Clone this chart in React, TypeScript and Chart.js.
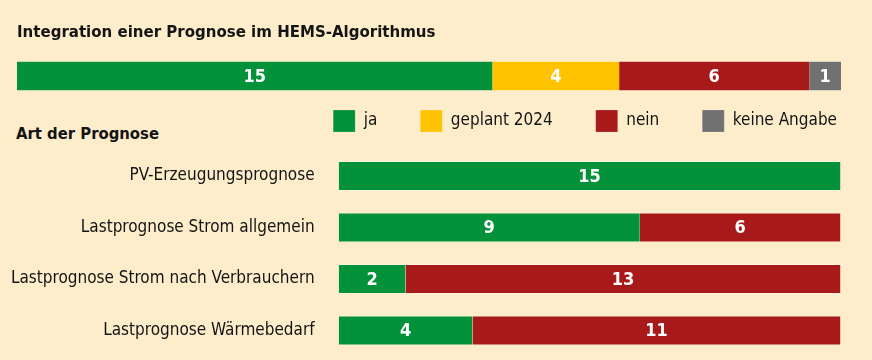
import React, { useEffect, useRef } from "react";
import { Chart, registerables } from "chart.js";

Chart.register(...registerables);

// ---- data ----
const seriesLabels = ["ja", "geplant 2024", "nein", "keine Angabe"];
const seriesColors = ["#03913A", "#FFC300", "#A81A1A", "#717171"];

const topTitle = "Integration einer Prognose im HEMS-Algorithmus";
const topCategories = ["HEMS-Algorithmus"];
const topJa = [15];
const topGeplant = [4];
const topNein = [6];
const topKeine = [1];

const sectionTitle = "Art der Prognose";
const categories = [
  "PV-Erzeugungsprognose",
  "Lastprognose Strom allgemein",
  "Lastprognose Strom nach Verbrauchern",
  "Lastprognose Wärmebedarf",
];
const jaValues = [15, 9, 2, 4];
const geplantValues = [0, 0, 0, 0];
const neinValues = [0, 6, 13, 11];
const keineValues = [0, 0, 0, 0];

const topTotal = 26;
const bottomTotal = 15;

// ---- styles ----
const BG = "#FEEDCB";
const TEXT = "#141414";
const EDGE = "rgba(255,255,255,0.35)";
const COND = "'DejaVu Sans Condensed', 'DejaVu Sans', sans-serif";

const valueLabels = {
  id: "valueLabels",
  afterDatasetsDraw(chart: any) {
    const ctx = chart.ctx;
    ctx.save();
    ctx.font = `bold 18px ${COND}`;
    ctx.fillStyle = "#ffffff";
    ctx.textAlign = "center";
    ctx.textBaseline = "middle";
    chart.data.datasets.forEach((ds: any, i: number) => {
      const meta = chart.getDatasetMeta(i);
      if (meta.hidden) return;
      meta.data.forEach((el: any, j: number) => {
        const v = ds.data[j];
        if (!v) return;
        const p = el.getCenterPoint();
        ctx.fillText(String(v), p.x, p.y + 1);
      });
    });
    ctx.restore();
  },
};

function makeDatasets(arrays: number[][], barPercentage: number) {
  return arrays.map((data, i) => ({
    label: seriesLabels[i],
    data,
    backgroundColor: seriesColors[i],
    borderColor: EDGE,
    borderWidth: { top: 1, bottom: 1, left: 0, right: 0 },
    borderSkipped: false,
    barPercentage,
    categoryPercentage: 1,
  }));
}

export default function App() {
  const topRef = useRef<HTMLCanvasElement>(null);
  const bottomRef = useRef<HTMLCanvasElement>(null);

  useEffect(() => {
    const top = new Chart(topRef.current!, {
      type: "bar",
      data: {
        labels: topCategories,
        datasets: makeDatasets([topJa, topGeplant, topNein, topKeine], 1) as any,
      },
      options: {
        indexAxis: "y",
        responsive: false,
        animation: false,
        layout: { padding: { left: 17, right: 31, top: 0, bottom: 9 } },
        scales: {
          x: { stacked: true, min: 0, max: topTotal, display: false },
          y: { stacked: true, display: false },
        },
        plugins: {
          legend: { display: false },
          tooltip: { enabled: false },
          title: {
            display: true,
            text: topTitle,
            align: "start",
            color: TEXT,
            font: { family: COND, size: 16.7, weight: "bold", lineHeight: 1.2 },
            padding: { top: 23, bottom: 18 },
          },
        },
      } as any,
      plugins: [valueLabels],
    });

    const bottom = new Chart(bottomRef.current!, {
      type: "bar",
      data: {
        labels: categories,
        datasets: makeDatasets([jaValues, geplantValues, neinValues, keineValues], 0.583) as any,
      },
      options: {
        indexAxis: "y",
        responsive: false,
        animation: false,
        layout: { padding: { left: 10, right: -8, top: 0, bottom: 35.75 } },
        scales: {
          x: {
            stacked: true,
            min: 0,
            max: bottomTotal,
            position: "top",
            grid: { display: false },
            border: { display: false },
            ticks: { display: false },
            afterFit: (s: any) => {
              s.height = 8.25;
            },
          },
          y: {
            stacked: true,
            position: "left",
            grid: { display: false },
            border: { display: false },
            ticks: {
              padding: 16,
              color: TEXT,
              font: { family: COND, size: 17 },
            },
            afterFit: (s: any) => {
              s.width = 328.6;
            },
          },
          yRight: {
            type: "category",
            axis: "y",
            position: "right",
            grid: { display: false },
            border: { display: false },
            ticks: { display: false },
            afterFit: (s: any) => {
              s.width = 39.4;
            },
          },
        },
        plugins: {
          legend: {
            display: true,
            position: "top",
            align: "end",
            labels: {
              boxWidth: 22,
              boxHeight: 22,
              padding: 43,
              color: TEXT,
              font: { family: COND, size: 17 },
            },
          },
          tooltip: { enabled: false },
          title: { display: false },
        },
      } as any,
      plugins: [valueLabels],
    });

    return () => {
      top.destroy();
      bottom.destroy();
    };
  }, []);

  return (
    <div
      style={{
        position: "fixed",
        left: 0,
        top: 0,
        width: 872,
        height: 360,
        background: BG,
        overflow: "hidden",
      }}
    >
      <canvas
        ref={topRef}
        width={872}
        height={100}
        style={{ position: "absolute", left: 0, top: 0, display: "block" }}
      />
      <div
        style={{
          position: "absolute",
          left: 16,
          top: 123.5,
          fontFamily: COND,
          fontWeight: "bold",
          fontSize: 16.5,
          lineHeight: "20px",
          color: TEXT,
          whiteSpace: "nowrap",
        }}
      >
        {sectionTitle}
      </div>
      <canvas
        ref={bottomRef}
        width={872}
        height={325}
        style={{ position: "absolute", left: 0, top: 67, display: "block" }}
      />
    </div>
  );
}
